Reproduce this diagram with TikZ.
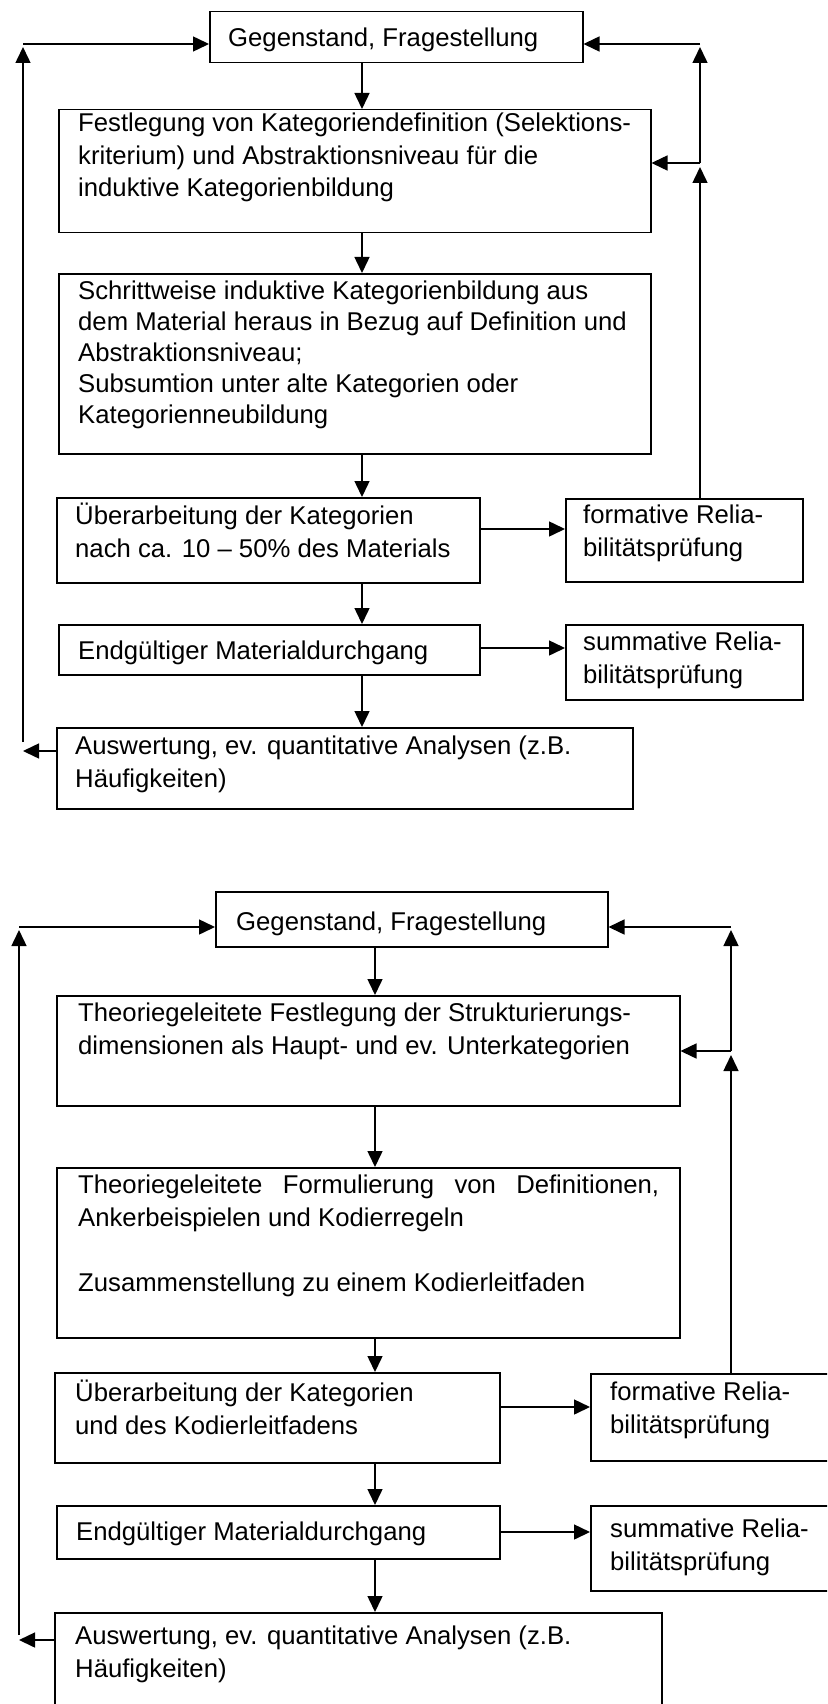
\documentclass[tikz,border=0pt]{standalone}
\usepackage{fontspec}
\setmainfont{Liberation Sans}
\usetikzlibrary{arrows.meta}
\begin{document}
\begin{tikzpicture}[x=1pt,y=-1pt,
  box/.style={draw, line width=1.5pt, inner sep=0pt, anchor=north west},
  % the given point is the baseline of the first line
  txt/.style={anchor=north west, yshift=25pt, inner sep=0pt, align=left,
    font=\fontsize{25.7}{32.5}\selectfont,
    execute at begin node={\rule{0pt}{25pt}}},
  arr/.style={line width=1.5pt, -{Triangle[length=16pt,width=15pt]}}]
\clip (0,0) rectangle (827,1704);
\fill[white] (0,0) rectangle (827,1704);

% ---------- inductive category formation ----------
\node[box, minimum width=373pt, minimum height=51pt]  (A) at (209,11)  {};
\node[box, minimum width=592pt, minimum height=123pt] (B) at (58,109)  {};
\node[box, minimum width=592pt, minimum height=180pt] (C) at (58,273)  {};
\node[box, minimum width=423pt, minimum height=85pt]  (D) at (56,497)  {};
\node[box, minimum width=237pt, minimum height=83pt]  (E) at (565,498) {};
\node[box, minimum width=421pt, minimum height=50pt]  (F) at (58,624)  {};
\node[box, minimum width=237pt, minimum height=75pt]  (G) at (565,624) {};
\node[box, minimum width=576pt, minimum height=81pt]  (H) at (56,727)  {};

\node[txt] (At) at (228,46)  {Gegenstand, Fragestellung};
\node[txt] (Bt) at (78,138)  {Festlegung von Kategoriendefinition (Selektions-\\kriterium) und Abstraktionsniveau für die\\induktive Kategorienbildung};
\node[txt, font=\fontsize{25.7}{31}\selectfont] (Ct) at (78,306) {Schrittweise induktive Kategorienbildung aus\\dem Material heraus in Bezug auf Definition und\\Abstraktionsniveau;\\Subsumtion unter alte Kategorien oder\\Kategorienneubildung};
\node[txt] (Dt) at (75,528)  {Überarbeitung der Kategorien\\nach ca. 10 – 50\% des Materials};
\node[txt] (Et) at (583,530) {formative Relia-\\bilitätsprüfung};
\node[txt] (Ft) at (78,659)  {Endgültiger Materialdurchgang};
\node[txt] (Gt) at (583,657) {summative Relia-\\bilitätsprüfung};
\node[txt] (Ht) at (75,761)  {Auswertung, ev. quantitative Analysen (z.B.\\Häufigkeiten)};

\coordinate (vx1) at (362,0);
\coordinate (lt1) at (23,44);
\coordinate (lt1tip) at (23,47);
\coordinate (lb1) at (23,742);
\coordinate (lh1) at (23,751);
\coordinate (rt1) at (700,44);
\coordinate (rt1tip) at (700,47);
\coordinate (rm1) at (700,163);
\coordinate (rm1tip) at (700,167);
\coordinate (ye1) at (0,529);
\coordinate (yg1) at (0,648);

\draw[arr] (A.south -| vx1) -- (B.north -| vx1);
\draw[arr] (B.south -| vx1) -- (C.north -| vx1);
\draw[arr] (C.south -| vx1) -- (D.north -| vx1);
\draw[arr] (D.south -| vx1) -- (F.north -| vx1);
\draw[arr] (F.south -| vx1) -- (H.north -| vx1);
\draw[arr] (D.east |- ye1) -- (E.west |- ye1);
\draw[arr] (F.east |- yg1) -- (G.west |- yg1);
\draw[arr] (H.west |- lh1) -- (lh1);
\draw[arr] (lb1) -- (lt1tip);
\draw[arr] (lt1) -- (A.west |- lt1);
\draw[arr] (rt1) -- (A.east |- rt1);
\draw[arr] (rm1) -- (rt1tip);
\draw[arr] (rm1) -- (B.east |- rm1);
\draw[arr] (E.north -| rm1) -- (rm1tip);

% ---------- deductive category application ----------
\node[box, minimum width=392pt, minimum height=55pt]  (A2) at (215,891)  {};
\node[box, minimum width=623pt, minimum height=110pt] (B2) at (56,995)   {};
\node[box, minimum width=623pt, minimum height=170pt] (C2) at (56,1167)  {};
\node[box, minimum width=445pt, minimum height=90pt]  (D2) at (54,1372)  {};
\node[box, minimum width=245pt, minimum height=87pt]  (E2) at (590,1373) {};
\node[box, minimum width=443pt, minimum height=53pt]  (F2) at (56,1505)  {};
\node[box, minimum width=245pt, minimum height=85pt]  (G2) at (590,1505) {};
\node[box, minimum width=607pt, minimum height=120pt] (H2) at (54,1612)  {};

\node[txt] (A2t) at (236,930)  {Gegenstand, Fragestellung};
\node[txt] (B2t) at (78,1028)  {Theoriegeleitete Festlegung der Strukturierungs-\\dimensionen als Haupt- und ev. Unterkategorien};
\node[txt] (C2t) at (78,1200)  {\makebox[581pt][s]{Theoriegeleitete Formulierung von Definitionen,}\\Ankerbeispielen und Kodierregeln\\[32.5pt]Zusammenstellung zu einem Kodierleitfaden};
\node[txt] (D2t) at (75,1405)  {Überarbeitung der Kategorien\\und des Kodierleitfadens};
\node[txt] (E2t) at (610,1407) {formative Relia-\\bilitätsprüfung};
\node[txt] (F2t) at (76,1540)  {Endgültiger Materialdurchgang};
\node[txt] (G2t) at (610,1544) {summative Relia-\\bilitätsprüfung};
\node[txt] (H2t) at (75,1651)  {Auswertung, ev. quantitative Analysen (z.B.\\Häufigkeiten)};

\coordinate (vx2) at (375,0);
\coordinate (lt2) at (19,927);
\coordinate (lt2tip) at (19,930);
\coordinate (lb2) at (19,1635);
\coordinate (lh2) at (19,1640);
\coordinate (rt2) at (731,927);
\coordinate (rt2tip) at (731,930);
\coordinate (rm2) at (731,1051);
\coordinate (rm2tip) at (731,1055);
\coordinate (ye2) at (0,1407);
\coordinate (yg2) at (0,1532);

\draw[arr] (A2.south -| vx2) -- (B2.north -| vx2);
\draw[arr] (B2.south -| vx2) -- (C2.north -| vx2);
\draw[arr] (C2.south -| vx2) -- (D2.north -| vx2);
\draw[arr] (D2.south -| vx2) -- (F2.north -| vx2);
\draw[arr] (F2.south -| vx2) -- (H2.north -| vx2);
\draw[arr] (D2.east |- ye2) -- (E2.west |- ye2);
\draw[arr] (F2.east |- yg2) -- (G2.west |- yg2);
\draw[arr] (H2.west |- lh2) -- (lh2);
\draw[arr] (lb2) -- (lt2tip);
\draw[arr] (lt2) -- (A2.west |- lt2);
\draw[arr] (rt2) -- (A2.east |- rt2);
\draw[arr] (rm2) -- (rt2tip);
\draw[arr] (rm2) -- (B2.east |- rm2);
\draw[arr] (E2.north -| rm2) -- (rm2tip);
\end{tikzpicture}
\end{document}
